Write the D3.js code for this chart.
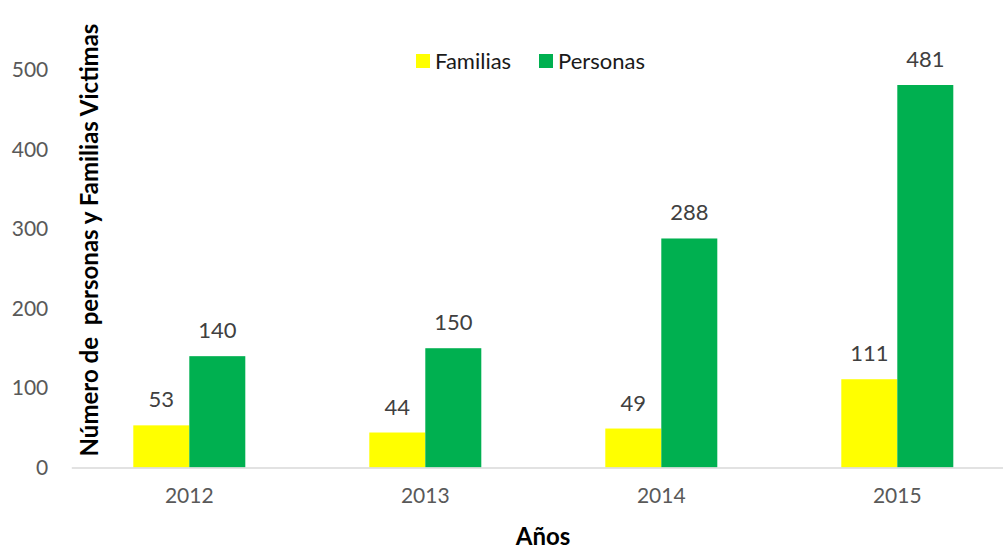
<!DOCTYPE html>
<html>
<head>
<meta charset="utf-8">
<script src="https://cdn.jsdelivr.net/npm/d3@7/dist/d3.min.js"></script>
<style>
  html, body { margin: 0; padding: 0; background: #fff; }
  svg { display: block; font-family: Lato, "Open Sans", sans-serif; }
</style>
</head>
<body>
<svg id="chart" width="1003" height="548"></svg>
<script>
// Víctimas por año
const years = ["2012", "2013", "2014", "2015"];
const familias = [53, 44, 49, 111];
const personas = [140, 150, 288, 481];
const seriesNames = ["Familias", "Personas"];
const seriesColors = ["#ffff00", "#00b050"];
const yTicks = [0, 100, 200, 300, 400, 500];

const svg = d3.select("#chart");
const plot = { left: 71.3, right: 1015.3, top: 69.9, bottom: 467.5 };

const x = d3.scaleBand().domain(years).range([plot.left, plot.right]).paddingInner(0).paddingOuter(0);
const xSeries = d3.scaleBand().domain(seriesNames).range([0, 112]);
const y = d3.scaleLinear().domain([0, 500]).range([plot.bottom, plot.top]);

const rows = years.map((yr, i) => ({ year: yr, values: [familias[i], personas[i]] }));

// Bars
const groups = svg.append("g").selectAll("g").data(rows).join("g")
  .attr("transform", d => `translate(${x(d.year) + x.bandwidth() / 2 - 56},0)`);

groups.selectAll("rect").data(d => d.values.map((v, k) => ({ v, k })))
  .join("rect")
  .attr("x", d => xSeries(seriesNames[d.k]))
  .attr("width", xSeries.bandwidth())
  .attr("y", d => y(d.v))
  .attr("height", d => y(0) - y(d.v))
  .attr("fill", d => seriesColors[d.k]);

groups.selectAll("text").data(d => d.values.map((v, k) => ({ v, k })))
  .join("text")
  .attr("x", d => xSeries(seriesNames[d.k]) + xSeries.bandwidth() / 2)
  .attr("y", d => y(d.v) - 18)
  .attr("text-anchor", "middle")
  .attr("font-size", 22)
  .attr("fill", "#404040")
  .text(d => d.v);

// X axis
const xAxis = svg.append("g").attr("transform", `translate(0,${plot.bottom})`)
  .call(d3.axisBottom(x).tickSize(0).tickPadding(21));
xAxis.select(".domain").attr("stroke", "#d9d9d9").attr("stroke-width", 1.5);
xAxis.selectAll("text").attr("font-size", 21).attr("fill", "#595959").attr("font-family", "Lato, sans-serif");

// Y axis (labels only)
const yAxis = svg.append("g").attr("transform", `translate(${plot.left - 23},0)`)
  .call(d3.axisLeft(y).tickValues(yTicks).tickSize(0).tickPadding(0));
yAxis.select(".domain").remove();
yAxis.selectAll("text").attr("font-size", 21).attr("fill", "#595959").attr("font-family", "Lato, sans-serif");

// Axis titles
svg.append("text")
  .attr("x", 543).attr("y", 545)
  .attr("text-anchor", "middle")
  .attr("font-size", 24).attr("font-weight", "bold").attr("fill", "#000")
  .text("Años");

svg.append("text")
  .attr("transform", "translate(98,240) rotate(-90)")
  .attr("text-anchor", "middle")
  .attr("font-size", 24).attr("font-weight", "bold").attr("fill", "#000")
  .attr("xml:space", "preserve")
  .style("white-space", "pre")
  .text("Número de  personas y Familias Victimas");

// Legend
const legendX = [416, 539];
const legend = svg.append("g").selectAll("g").data(seriesNames).join("g")
  .attr("transform", (d, i) => `translate(${legendX[i]},54)`);
legend.append("rect").attr("width", 14).attr("height", 14)
  .attr("fill", (d, i) => seriesColors[i]);
legend.append("text").attr("x", 19).attr("y", 7).attr("dy", "0.35em")
  .attr("font-size", 22).attr("fill", "#1a1a1a")
  .text(d => d);
</script>
</body>
</html>
